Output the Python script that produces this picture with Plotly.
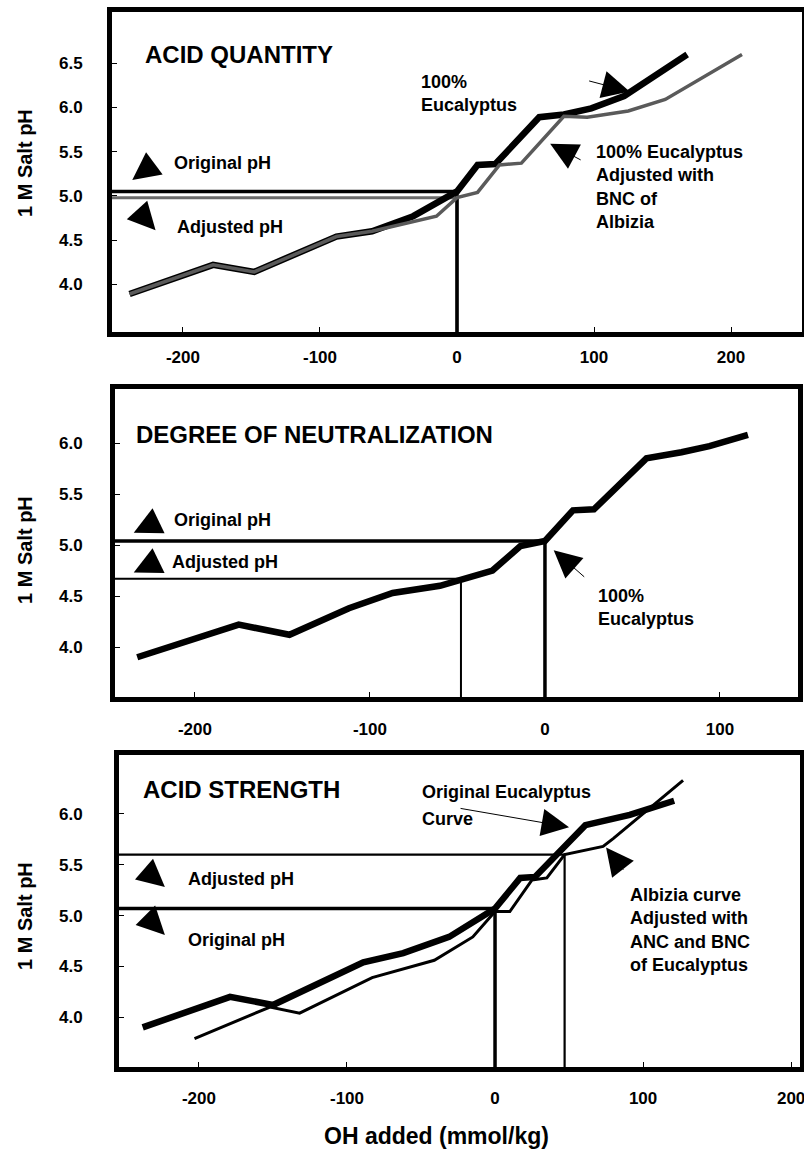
import math
import plotly.graph_objects as go

# ---------------- data ----------------
# Panel 1: acid quantity
aq_euc_oh = [-239, -178, -148, -88, -62, -32, 0, 15, 28, 60, 78, 98, 122, 168]
aq_euc_ph = [3.89, 4.22, 4.14, 4.54, 4.60, 4.77, 5.05, 5.35, 5.36, 5.89, 5.92, 5.99, 6.13, 6.60]
aq_adj_oh = [-239, -178, -148, -88, -62, -15, 0, 15, 31, 47, 78, 95, 125, 152, 208]
aq_adj_ph = [3.89, 4.22, 4.14, 4.54, 4.60, 4.77, 4.98, 5.04, 5.35, 5.37, 5.90, 5.89, 5.96, 6.09, 6.60]
aq_original_ph = 5.05
aq_adjusted_ph = 4.98

# Panel 2: degree of neutralization
dn_euc_oh = [-233, -175, -146, -112, -87, -60, -30, -14, 0, 16, 28, 58, 78, 94, 116]
dn_euc_ph = [3.90, 4.22, 4.12, 4.38, 4.53, 4.60, 4.75, 4.99, 5.04, 5.34, 5.35, 5.85, 5.91, 5.97, 6.08]
dn_original_ph = 5.04
dn_adjusted_ph = 4.67
dn_adjusted_oh = -48

# Panel 3: acid strength
as_euc_oh = [-238, -179, -150, -89, -62, -31, 0, 17, 27, 61, 91, 121]
as_euc_ph = [3.90, 4.20, 4.12, 4.54, 4.63, 4.79, 5.07, 5.37, 5.38, 5.89, 5.99, 6.13]
as_alb_oh = [-203, -152, -132, -83, -41, -26, -15, 0, 10, 25, 35, 47, 73, 80, 127]
as_alb_ph = [3.79, 4.10, 4.04, 4.39, 4.56, 4.69, 4.79, 5.04, 5.04, 5.35, 5.37, 5.60, 5.68, 5.76, 6.33]
as_original_ph = 5.07
as_adjusted_ph = 5.60
as_adjusted_oh = 47

x_ticks_wide = [-200, -100, 0, 100, 200]
x_ticks_narrow = [-200, -100, 0, 100]
y_ticks_tall = [4.0, 4.5, 5.0, 5.5, 6.0, 6.5]
y_ticks_short = [4.0, 4.5, 5.0, 5.5, 6.0]

# ---------------- layout geometry ----------------
W, H = 804, 1160
FONT = "Liberation Sans, Arial, Helvetica, sans-serif"

panels = [
    # frame edges in px, axis ranges, ticks and label standoffs
    dict(l=112, r=802, t=12, b=332, xr=[-251.8, 251.8], yr=[3.46, 7.08],
         xt=x_ticks_wide, yt=y_ticks_tall, xs=6, ys=21),
    dict(l=115, r=798, t=389, b=697, xr=[-245.7, 144.6], yr=[3.51, 6.53],
         xt=x_ticks_narrow, yt=y_ticks_short, xs=13, ys=24),
    dict(l=119, r=800, t=755, b=1067, xr=[-254, 206], yr=[3.51, 6.58],
         xt=x_ticks_wide, yt=y_ticks_short, xs=12, ys=28),
]

fig = go.Figure()
layout = dict(width=W, height=H, margin=dict(l=0, r=0, t=0, b=0),
              paper_bgcolor="white", plot_bgcolor="white", showlegend=False,
              font=dict(family=FONT, color="black"))

for i, p in enumerate(panels, start=1):
    sx = "" if i == 1 else str(i)
    layout["xaxis" + sx] = dict(
        domain=[p["l"] / W, p["r"] / W], range=p["xr"], anchor="y" + sx,
        showline=True, linewidth=5, linecolor="black", mirror=True,
        ticks="inside", ticklen=5, tickwidth=1, tickcolor="black",
        tickvals=p["xt"], ticktext=[str(v) for v in p["xt"]],
        tickfont=dict(size=17, family=FONT, weight="bold"),
        ticklabelstandoff=p["xs"], ticklabeloverflow="allow",
        showgrid=False, zeroline=False, automargin=False)
    layout["yaxis" + sx] = dict(
        domain=[1 - p["b"] / H, 1 - p["t"] / H], range=p["yr"], anchor="x" + sx,
        showline=True, linewidth=5, linecolor="black", mirror=True,
        ticks="inside", ticklen=5, tickwidth=1, tickcolor="black",
        tickvals=p["yt"], ticktext=[f"{v:.1f}" for v in p["yt"]],
        tickfont=dict(size=17, family=FONT, weight="bold"),
        ticklabelstandoff=p["ys"], ticklabeloverflow="allow",
        showgrid=False, zeroline=False, automargin=False)


def line(x, y, panel, width, color="black"):
    sx = "" if panel == 1 else str(panel)
    fig.add_trace(go.Scatter(x=x, y=y, mode="lines", xaxis="x" + sx, yaxis="y" + sx,
                             line=dict(color=color, width=width), hoverinfo="skip",
                             cliponaxis=True))


def drop_line(panel, oh, ph, width, color="black"):
    # horizontal from the left frame to the curve, then down to the bottom frame
    p = panels[panel - 1]
    line([p["xr"][0], oh, oh], [ph, ph, p["yr"][0]], panel, width, color)


# Panel 1
drop_line(1, 0, aq_adjusted_ph, 3, "#6a6a6a")
drop_line(1, 0, aq_original_ph, 3.5)
line(aq_euc_oh, aq_euc_ph, 1, 6.5)
line(aq_adj_oh, aq_adj_ph, 1, 3.5, "#5a5a5a")

# Panel 2
drop_line(2, dn_adjusted_oh, dn_adjusted_ph, 2)
drop_line(2, 0, dn_original_ph, 3.5)
line(dn_euc_oh, dn_euc_ph, 2, 6.5)

# Panel 3
drop_line(3, as_adjusted_oh, as_adjusted_ph, 2.2)
drop_line(3, 0, as_original_ph, 3.5)
line(as_euc_oh, as_euc_ph, 3, 6.5)
line(as_alb_oh, as_alb_ph, 3, 3)

annotations = []


def label(panel, x, y, text, size=18):
    sx = "" if panel == 1 else str(panel)
    annotations.append(dict(x=x, y=y, xref="x" + sx, yref="y" + sx, text=text,
                            showarrow=False, xanchor="left", yanchor="middle", align="left",
                            font=dict(size=size, family=FONT, weight="bold")))


def arrow(panel, x, y, dx, dy, length=None, width=1.2, size=4.6):
    # arrow tip at data point (x, y); tail offset in pixels along (dx, dy)
    sx = "" if panel == 1 else str(panel)
    if length is not None:
        n = math.hypot(dx, dy)
        dx, dy = dx / n * length, dy / n * length
    annotations.append(dict(x=x, y=y, xref="x" + sx, yref="y" + sx, text="",
                            showarrow=True, arrowhead=2, arrowsize=size, arrowwidth=width,
                            arrowcolor="black", ax=dx, ay=dy, standoff=0))


# Panel 1 texts
label(1, -229, 6.60, "ACID QUANTITY", 24)
label(1, -28, 6.155, "100%<br>Eucalyptus")
label(1, 100, 5.10, "100% Eucalyptus<br>Adjusted with<br>BNC of<br>Albizia")
label(1, -208, 5.37, "Original pH")
label(1, -206, 4.65, "Adjusted pH")
arrow(1, -237, 5.18, 28, -21, length=26)
arrow(1, -220, 4.61, -20, -22, length=26)
arrow(1, 126, 6.18, -42, -11, width=1, size=5.5)
arrow(1, 68, 5.59, 32, 17, width=1, size=5.5)

# Panel 2 texts
label(2, -235, 6.08, "DEGREE OF NEUTRALIZATION", 24)
label(2, -213, 5.25, "Original pH")
label(2, -214, 4.83, "Adjusted pH")
label(2, 29, 4.385, "100%<br>Eucalyptus")
arrow(2, -235, 5.12, 31, -15, length=27)
arrow(2, -235, 4.73, 31, -15, length=27)
arrow(2, 5, 4.95, 32, 28, width=1, size=5.5)

# Panel 3 texts
label(3, -239, 6.24, "ACID STRENGTH", 24)
label(3, -51, 6.22, "Original Eucalyptus")
label(3, -51, 5.95, "Curve")
label(3, -209, 5.36, "Adjusted pH")
label(3, -209, 4.76, "Original pH")
label(3, 90, 4.86, "Albizia curve<br>Adjusted with<br>ANC and BNC<br>of Eucalyptus")
arrow(3, -223, 5.28, -22, -19, length=26)
arrow(3, -223, 4.81, -21, -21, length=26)
arrow(3, 50, 5.87, -110, -19, width=1, size=5.5)
arrow(3, 75, 5.67, 21, 27, length=30, width=1, size=5.5)

# Axis titles
for yc in (163, 550, 916):
    annotations.append(dict(x=25 / W, y=1 - yc / H, xref="paper", yref="paper",
                            text="1 M Salt pH", textangle=-90, showarrow=False,
                            xanchor="center", yanchor="middle",
                            font=dict(size=20, family=FONT, weight="bold")))
annotations.append(dict(x=436 / W, y=1 - 1136 / H, xref="paper", yref="paper",
                        text="OH added (mmol/kg)", showarrow=False,
                        xanchor="center", yanchor="middle",
                        font=dict(size=23, family=FONT, weight="bold")))

layout["annotations"] = annotations
fig.update_layout(**layout)
fig.write_html("out.html")
